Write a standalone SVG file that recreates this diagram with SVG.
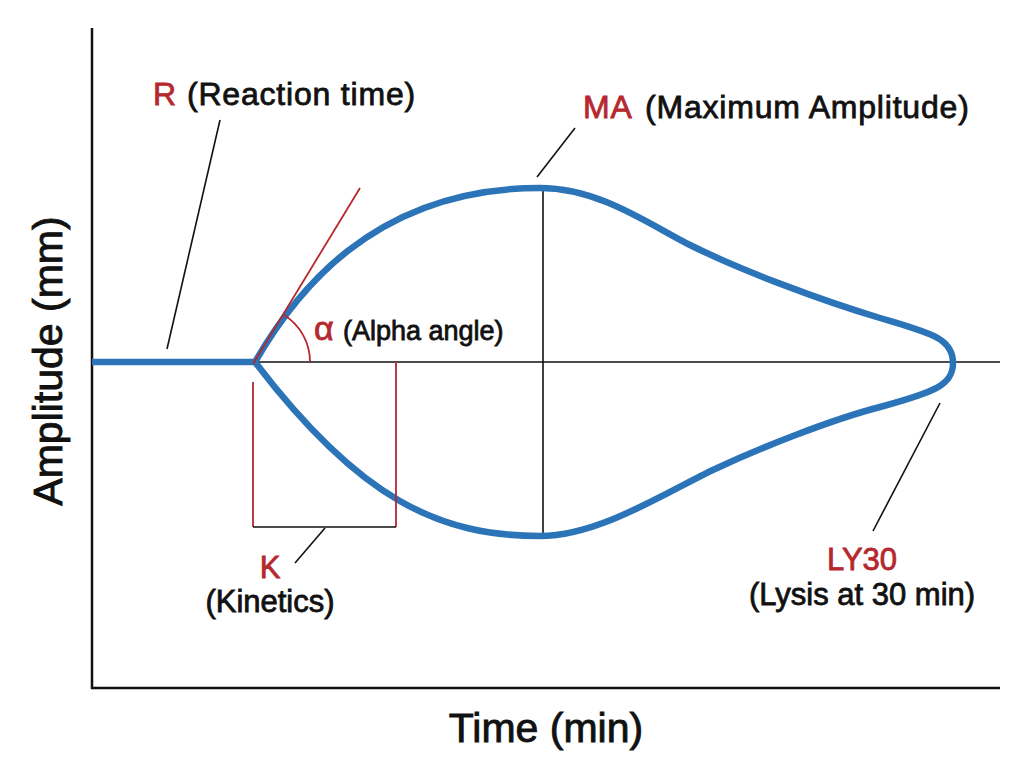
<svg xmlns="http://www.w3.org/2000/svg" width="1024" height="768" viewBox="0 0 1024 768">
<style>
.lbl{font-family:"Liberation Sans",Arial,sans-serif;font-size:31px;fill:#111;stroke:#111;stroke-width:0.8}
.big{font-size:32px;letter-spacing:0.8px}
.red{fill:#b5282e;stroke:#b5282e}
.axl{font-family:"Liberation Sans",Arial,sans-serif;font-size:41px;fill:#111;stroke:#111;stroke-width:0.9}
.thin{stroke:#111;stroke-width:1.6;fill:none}
.rl{stroke:#b5282e;stroke-width:1.8;fill:none}
.curve{stroke:#2b74b8;stroke-width:6.5;fill:none;stroke-linejoin:round}
</style>
<rect width="1024" height="768" fill="#fff"/>
<g id="axes">
<line x1="92" y1="28" x2="92" y2="689" stroke="#111" stroke-width="2.5"/>
<line x1="91" y1="688" x2="1000" y2="688" stroke="#111" stroke-width="2.5"/>
<text class="axl" x="0" y="0" transform="translate(62,361) rotate(-90)" text-anchor="middle">Amplitude (mm)</text>
<text class="axl" x="546" y="742" text-anchor="middle">Time (min)</text>
</g>
<g id="baseline">
<line class="thin" x1="255" y1="362" x2="1000" y2="362"/>
<line class="thin" x1="543" y1="188" x2="543" y2="536"/>
</g>
<g id="tracing">
<path class="curve" d="M92,362 H255 C292,298 370,188 540,188 C600,188 650,225 690,245 C740,270 820,300 880,318 C930,333 953,338 953,363 C953,385 935,392 880,407 C830,420 760,448 715,469 C670,490 600,536 540,536 C440,536 360,500 255,362"/>
</g>
<g id="alpha">
<line class="rl" x1="253" y1="364" x2="360" y2="188"/>
<path class="rl" d="M310,362 A55,55 0 0 0 284,315"/>
<text class="lbl red" x="314" y="340" style="font-size:34px">α</text>
<text class="lbl" x="343" y="340" style="font-size:27px">(Alpha angle)</text>
</g>
<g id="kinetics">
<line class="rl" x1="253" y1="382" x2="253" y2="527"/>
<line class="rl" x1="396" y1="362" x2="396" y2="527"/>
<line class="thin" x1="253" y1="527" x2="396" y2="527"/>
<text class="lbl red" x="270" y="578" text-anchor="middle">K</text>
<text class="lbl" x="270" y="612" text-anchor="middle">(Kinetics)</text>
</g>
<g id="connectors">
<line class="thin" x1="325" y1="528" x2="295" y2="563"/>
<line class="thin" x1="220" y1="120" x2="167" y2="349"/>
<line class="thin" x1="575" y1="128" x2="537" y2="177"/>
<line class="thin" x1="940" y1="403" x2="873" y2="531"/>
</g>
<g id="reaction">
<text class="lbl big red" x="153" y="105">R</text>
<text class="lbl big" x="187" y="105">(Reaction time)</text>
</g>
<g id="ma">
<text class="lbl big red" x="583" y="118">MA</text>
<text class="lbl big" x="645" y="118">(Maximum Amplitude)</text>
</g>
<g id="ly30">
<text class="lbl red" x="862" y="570" text-anchor="middle">LY30</text>
<text class="lbl" x="862" y="605" text-anchor="middle">(Lysis at 30 min)</text>
</g>
</svg>
